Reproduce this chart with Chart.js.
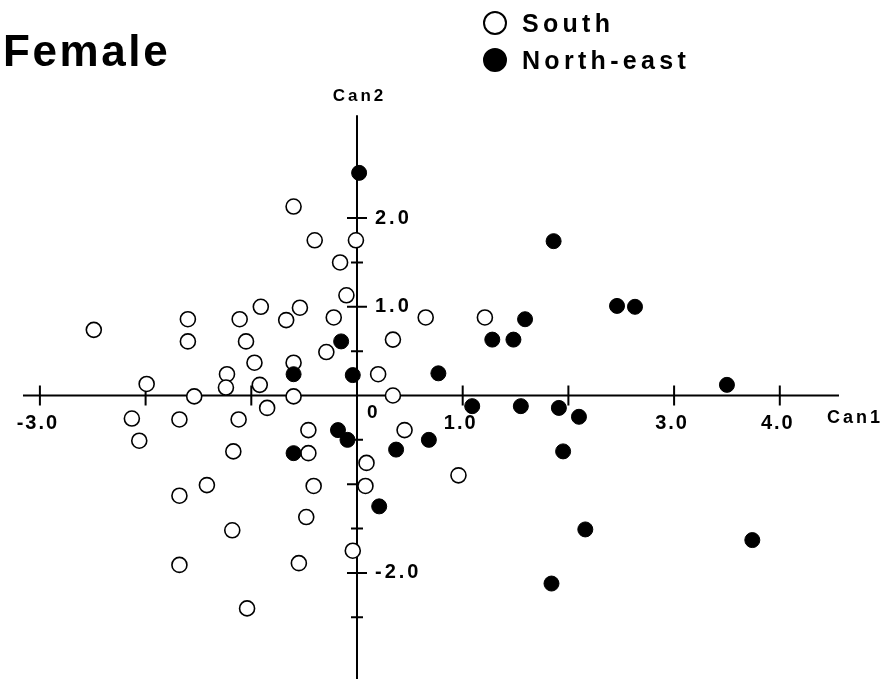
<!DOCTYPE html>
<html>
<head>
<meta charset="utf-8">
<script src="https://cdn.jsdelivr.net/npm/chart.js@4.4.1/dist/chart.umd.min.js"></script>
<style>
  html, body { margin: 0; padding: 0; background: #fff; }
  canvas { display: block; }
</style>
</head>
<body>
<canvas id="grafico" width="888" height="679"></canvas>
<script>
// valori (Can1, Can2)
var southPoints = [
    [-0.60, 2.13], [-0.40, 1.75], [-0.01, 1.75], [-0.16, 1.50], [-0.10, 1.13],
    [-0.22, 0.88], [-0.54, 0.99], [-0.67, 0.85], [-0.91, 1.00], [-1.11, 0.86],
    [-1.05, 0.61], [-1.60, 0.86], [-1.60, 0.61], [-2.49, 0.74], [0.34, 0.63],
    [0.65, 0.88], [-0.29, 0.49], [-0.97, 0.37], [-0.60, 0.37], [-1.23, 0.24],
    [-1.24, 0.09], [-0.92, 0.12], [-1.99, 0.13], [-1.54, -0.01], [-0.60, -0.01],
    [0.20, 0.24], [0.34, 0.00], [-0.85, -0.14], [1.21, 0.88], [-2.13, -0.26],
    [-1.68, -0.27], [-1.12, -0.27], [-2.06, -0.51], [-0.46, -0.39], [0.45, -0.39],
    [-1.17, -0.63], [-0.46, -0.65], [0.09, -0.76], [-1.42, -1.01], [-0.41, -1.02],
    [0.08, -1.02], [-1.68, -1.13], [-0.48, -1.37], [-1.18, -1.52], [-0.04, -1.75],
    [-1.68, -1.91], [-0.55, -1.89], [-1.04, -2.40], [0.96, -0.90]
];
var northEastPoints = [
    [0.02, 2.51], [-0.15, 0.61], [-0.60, 0.24], [-0.04, 0.23], [0.77, 0.25],
    [1.86, 1.74], [2.46, 1.01], [2.63, 1.00], [1.59, 0.86], [1.28, 0.63],
    [1.48, 0.63], [3.50, 0.12], [1.09, -0.12], [1.55, -0.12], [1.91, -0.14],
    [2.10, -0.24], [-0.18, -0.39], [-0.09, -0.50], [-0.60, -0.65], [0.37, -0.61],
    [0.68, -0.50], [0.21, -1.25], [1.95, -0.63], [2.16, -1.51], [3.74, -1.63],
    [1.84, -2.12]
];

var xTicks = [-3, -2, -1, 1, 2, 3, 4];
var yTicks = [-2.5, -2, -1.5, -1, -0.5, 0.5, 1, 1.5, 2];
var xLabelValues = [-3, 1, 3, 4];
var xLabelTexts = ['-3.0', '1.0', '3.0', '4.0'];
var yLabelValues = [2, 1, -2];
var yLabelTexts = ['2.0', '1.0', '-2.0'];
var xAxisRange = [-3.16, 4.56];
var yAxisRange = [-3.2, 3.16];

function toXY(arr) {
    return arr.map(function (p) { return { x: p[0], y: p[1] }; });
}

function testo(ctx, str, x, y, font, spacing, align) {
    ctx.font = font;
    ctx.letterSpacing = spacing + 'px';
    var w = ctx.measureText(str).width - spacing;
    var sx = x;
    if (align === 'center') sx = x - w / 2;
    ctx.textAlign = 'left';
    ctx.fillText(str, sx, y);
}

// assi che si incrociano nell'origine
var assiPlugin = {
    id: 'assi',
    beforeDatasetsDraw: function (chart) {
        var ctx = chart.ctx;
        var xs = chart.scales.x;
        var ys = chart.scales.y;
        var x0 = xs.getPixelForValue(0);
        var y0 = ys.getPixelForValue(0);
        ctx.save();
        ctx.strokeStyle = '#000';
        ctx.lineWidth = 2;
        ctx.beginPath();
        ctx.moveTo(xs.getPixelForValue(xAxisRange[0]), y0);
        ctx.lineTo(xs.getPixelForValue(xAxisRange[1]), y0);
        ctx.moveTo(x0, ys.getPixelForValue(yAxisRange[1]));
        ctx.lineTo(x0, ys.getPixelForValue(yAxisRange[0]));
        for (var i = 0; i < xTicks.length; i++) {
            var px = xs.getPixelForValue(xTicks[i]);
            ctx.moveTo(px, y0 - 10);
            ctx.lineTo(px, y0 + 10);
        }
        for (var j = 0; j < yTicks.length; j++) {
            var py = ys.getPixelForValue(yTicks[j]);
            var l = (yTicks[j] % 1 === 0) ? 10 : 6;
            ctx.moveTo(x0 - l, py);
            ctx.lineTo(x0 + l, py);
        }
        ctx.stroke();

        ctx.fillStyle = '#000';
        ctx.textBaseline = 'middle';
        var bold = 'bold 20px "Liberation Sans", Arial, sans-serif';
        for (var k = 0; k < xLabelValues.length; k++) {
            testo(ctx, xLabelTexts[k], xs.getPixelForValue(xLabelValues[k]) - 3, y0 + 28, bold, 2, 'center');
        }
        for (var m = 0; m < yLabelValues.length; m++) {
            testo(ctx, yLabelTexts[m], x0 + 18, ys.getPixelForValue(yLabelValues[m]), bold, 3, 'left');
        }
        testo(ctx, '0', x0 + 10, y0 + 17, 'bold 19px "Liberation Sans", Arial, sans-serif', 0, 'left');
        testo(ctx, 'Can1', xs.getPixelForValue(xAxisRange[1]) - 12, y0 + 23, 'bold 18px "Liberation Sans", Arial, sans-serif', 3, 'left');
        testo(ctx, 'Can2', x0 + 1, ys.getPixelForValue(yAxisRange[1]) - 19, 'bold 17px "Liberation Sans", Arial, sans-serif', 3, 'center');
        ctx.restore();
    },
    afterDraw: function (chart) {
        var ctx = chart.ctx;
        ctx.save();
        ctx.fillStyle = '#000';
        ctx.textBaseline = 'alphabetic';
        testo(ctx, 'Female', 3, 66, 'bold 44px "Liberation Sans", Arial, sans-serif', 2.6, 'left');

        // legenda
        var ds = chart.data.datasets;
        var righe = [23, 60];
        for (var i = 0; i < ds.length; i++) {
            ctx.beginPath();
            ctx.arc(495, righe[i], 11, 0, Math.PI * 2);
            ctx.fillStyle = ds[i].backgroundColor;
            ctx.fill();
            ctx.lineWidth = 2;
            ctx.strokeStyle = '#000';
            ctx.stroke();
            ctx.fillStyle = '#000';
            testo(ctx, ds[i].label, 522, righe[i] + 9, 'bold 25px "Liberation Sans", Arial, sans-serif', 4.3, 'left');
        }
        ctx.restore();
    }
};

var ctx = document.getElementById('grafico');
var chart = new Chart(ctx, {
    type: 'scatter',
    data: {
        datasets: [{
            label: 'South',
            data: toXY(southPoints),
            backgroundColor: '#fff',
            borderColor: '#000',
            borderWidth: 1.6,
            pointRadius: 7.5,
            order: 2
        }, {
            label: 'North-east',
            data: toXY(northEastPoints),
            backgroundColor: '#000',
            borderColor: '#000',
            borderWidth: 1,
            pointRadius: 7.5,
            order: 1
        }]
    },
    options: {
        responsive: false,
        animation: false,
        devicePixelRatio: 1,
        layout: { padding: 0, autoPadding: false },
        clip: false,
        plugins: {
            legend: { display: false },
            title: { display: false },
            tooltip: { enabled: false }
        },
        scales: {
            x: { type: 'linear', display: false, min: -3.3775, max: 5.0237 },
            y: { type: 'linear', display: false, min: -3.1962, max: 4.4589 }
        }
    },
    plugins: [assiPlugin]
});
</script>
</body>
</html>
